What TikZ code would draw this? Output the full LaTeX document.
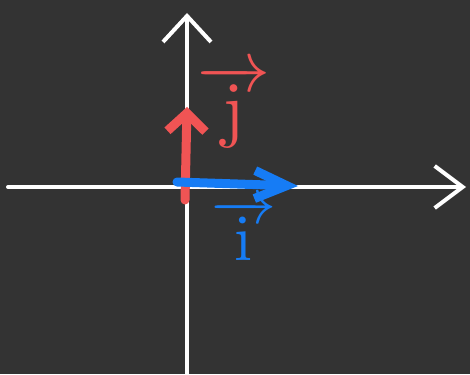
\documentclass[tikz,border=0pt]{standalone}
\usepackage{tikz}
\usetikzlibrary{arrows.meta,positioning}
\definecolor{boardgray}{RGB}{51,51,51}
\definecolor{chalkred}{RGB}{240,84,84}
\definecolor{chalkblue}{RGB}{22,124,245}

\begin{document}
\begin{tikzpicture}[x=1pt, y=-1pt, line cap=round, line join=round]
\fill[boardgray] (0,0) rectangle (470,374);
\useasboundingbox (0,0) rectangle (470,374);
\coordinate (o) at (187,187);
\coordinate (xl) at (8,187);
\coordinate (xr) at (466,187);
\coordinate (yb) at (187,376);
\coordinate (yt) at (187,13);
\coordinate (jfoot) at (185,200);
\coordinate (jtip) at (187,107);
\coordinate (ifoot) at (177,182);
\coordinate (itip) at (298,186);
\draw[-{Straight Barb[length=28pt, width=42pt]}, white, line width=4pt] (xl) -- (xr);
\draw[-{Straight Barb[length=26pt, width=48pt]}, white, line width=4pt] (yb) -- (yt);
\draw[-{Straight Barb[length=18pt, width=38pt]}, chalkred, line width=9pt] (jfoot) -- (jtip);
\draw[-{Straight Barb[length=32pt, width=28pt]}, chalkblue, line width=9pt] (ifoot) -- (itip);
\node[text=chalkred, scale=7.3] (jlab) at (234,106) {$\overrightarrow{\mathrm{j}}$};
\node[text=chalkblue, scale=6.5] (ilab) at (244,230) {$\overrightarrow{\mathrm{i}}$};
\end{tikzpicture}
\end{document}
